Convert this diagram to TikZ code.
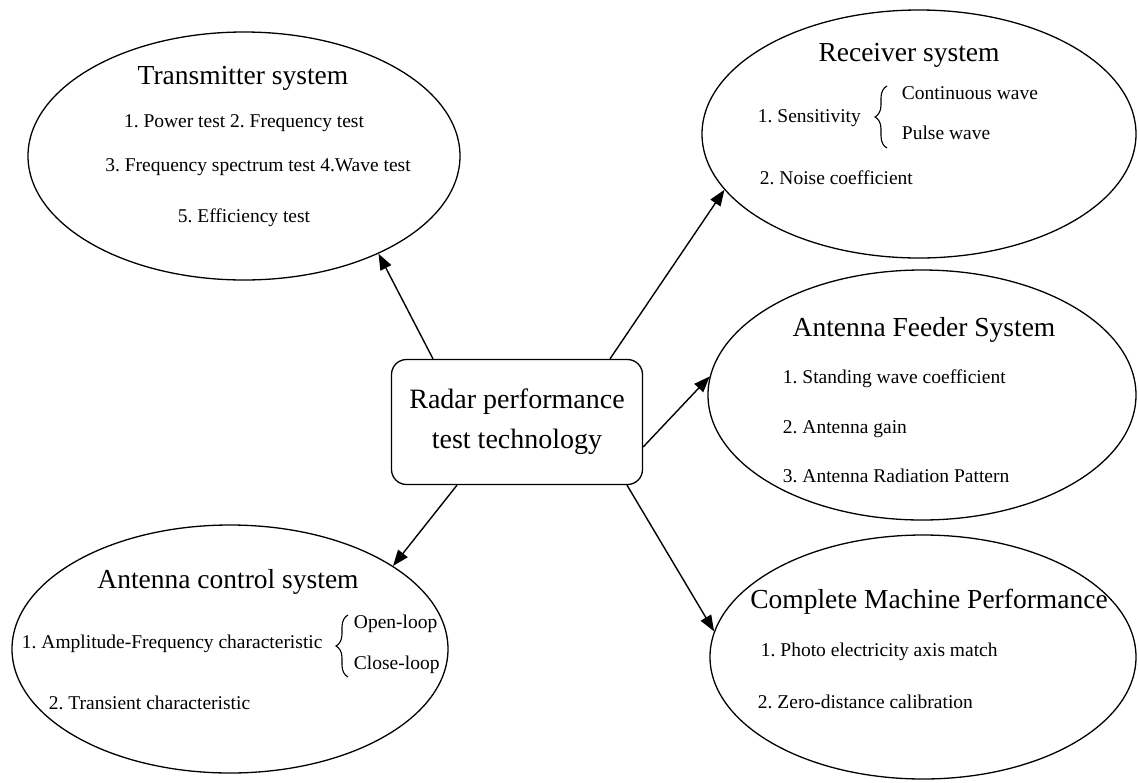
\documentclass[tikz,border=0pt]{standalone}
\usepackage{fontspec}
\setmainfont{Liberation Serif}
\usetikzlibrary{arrows.meta,calc,shapes.geometric,decorations.pathreplacing}
\frenchspacing

\tikzset{
  sysell/.style={draw, ellipse, line width=1.3pt, inner sep=0pt},
  hubbox/.style={draw, rectangle, rounded corners=15pt, line width=1.3pt, align=center,
    minimum width=251pt, minimum height=125pt, font=\fontsize{28}{40}\selectfont},
  title/.style={inner sep=0.75pt, font=\fontsize{27.5}{30}\selectfont},
  item/.style={inner sep=0.75pt, text height=13pt, text depth=4pt, font=\fontsize{19.5}{22}\selectfont},
  arr/.style={line width=1.4pt, -{Triangle[length=16pt,width=12pt]}},
  brc/.style={line width=1.1pt, decorate, decoration={brace, amplitude=12pt}}
}

\begin{document}
\begin{tikzpicture}[x=1pt,y=1pt,yscale=-1,xscale=1]
        \useasboundingbox (0,0) rectangle (1138,782);

        % Centre box
        \node [hubbox] (radar) at (517,422) {Radar performance\\test technology};

        % Ellipses
        \node [sysell, minimum width=432pt, minimum height=248pt] (tx) at (244,156) {};
        \node [sysell, minimum width=434pt, minimum height=248pt] (rcv) at (919,134) {};
        \node [sysell, minimum width=428pt, minimum height=250pt] (feed) at (922,395) {};
        \node [sysell, minimum width=426pt, minimum height=244pt] (cmp) at (923,657) {};
        \node [sysell, minimum width=436pt, minimum height=248pt] (ctl) at (230,649) {};

        % Arrows
        \draw [arr] ($(radar.north)+(-84,0)$) -- (tx.-36);
        \draw [arr] ($(radar.north)+(93,0)$) -- (rcv.196);
        \draw [arr] ($(radar.east)+(0,25)$) -- (feed.175);
        \draw [arr] ($(radar.south)+(110,0)$) -- (cmp.173);
        \draw [arr] ($(radar.south)+(-60,0)$) -- (ctl.27);

        % Text Node
        \node [title] (txt) at (243,78) {Transmitter system};
        \node [item] (tx1) at (244,123) {1. Power test 2. Frequency test};
        \node [item] (tx2) at (258,167) {3. Frequency spectrum test 4.Wave test};
        \node [item] (tx3) at (244,218) {5. Efficiency test};

        % Text Node
        \node [title] (rct) at (909,55) {Receiver system};
        \node [item, anchor=west] (rc1) at (757,118) {1. Sensitivity};
        \node [item, anchor=west] (rc1a) at (901,95) {Continuous wave};
        \node [item, anchor=west] (rc1b) at (901,135) {Pulse wave};
        \node [item, anchor=west] (rc2) at (759,180) {2. Noise coefficient};
        \draw [brc] (887,148) -- (887,86);

        % Text Node
        \node [title] (fdt) at (924,330) {Antenna Feeder System};
        \node [item, anchor=west] (fd1) at (782,379) {1. Standing wave coefficient};
        \node [item, anchor=west] (fd2) at (782,429) {2. Antenna gain};
        \node [item, anchor=west] (fd3) at (782,478) {3. Antenna Radiation Pattern};

        % Text Node
        \node [title] (cmt) at (929,602) {Complete Machine Performance};
        \node [item, anchor=west] (cm1) at (760,652) {1. Photo electricity axis match};
        \node [item, anchor=west] (cm2) at (757,704) {2. Zero-distance calibration};

        % Text Node
        \node [title] (ctt) at (228,582) {Antenna control system};
        \node [item, anchor=west] (ct1) at (21,644) {1. Amplitude-Frequency characteristic};
        \node [item, anchor=west] (ct1a) at (353,624) {Open-loop};
        \node [item, anchor=west] (ct1b) at (353,665) {Close-loop};
        \node [item, anchor=west] (ct2) at (48,705) {2. Transient characteristic};
        \draw [brc] (348,677) -- (348,615);

    \end{tikzpicture}
\end{document}
